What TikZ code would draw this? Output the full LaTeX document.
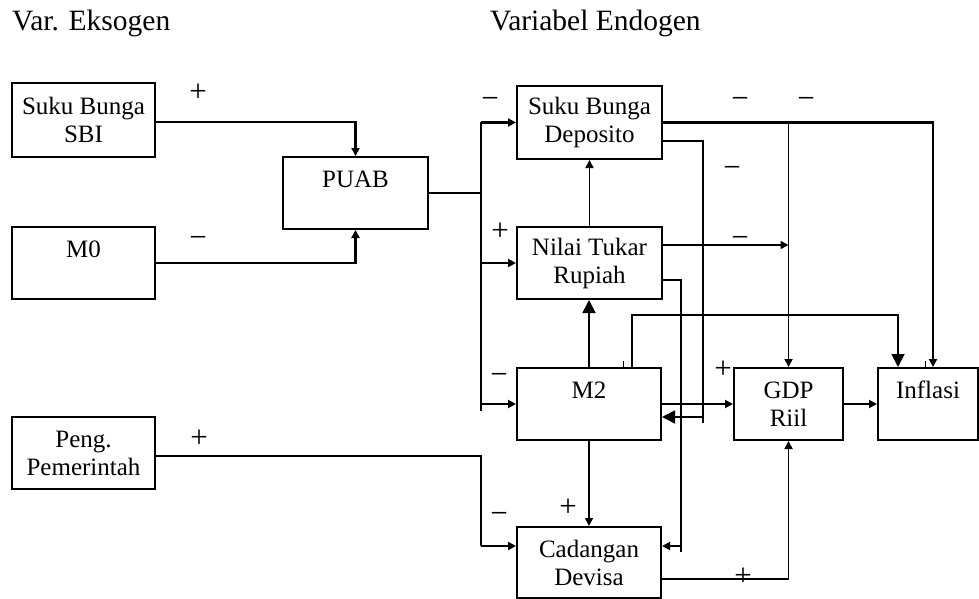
\documentclass[tikz,border=0pt]{standalone}
\usepackage{fontspec}
\setmainfont{Liberation Serif}
\usetikzlibrary{arrows.meta,calc}
\begin{document}
\begin{tikzpicture}[x=1pt,y=-1pt,
  box/.style={draw,line width=2pt,align=center,inner sep=0pt,font=\fontsize{25}{28}\selectfont},
  ln/.style={line width=1.8pt},
  thk/.style={line width=2.2pt},
  sarr/.style={-{Triangle[length=8pt,width=8pt]}},
  barr/.style={-{Triangle[length=13pt,width=13pt]}},
  sign/.style={inner sep=0pt,font=\fontsize{31}{34}\selectfont},
  title/.style={inner sep=0pt,anchor=base west,font=\fontsize{29.5}{34}\selectfont}]
\useasboundingbox (0,0) rectangle (979,599);

% titles
\node[title] (tex) at (12,31) {Var. Eksogen};
\node[title] (ten) at (490,31) {Variabel Endogen};

% boxes
\node[box,minimum width=143pt,minimum height=74pt] (sbi) at (83.5,120) {Suku Bunga\\SBI};
\node[box,minimum width=143pt,minimum height=72pt] (m0) at (83.5,263) {M0\\\mbox{}};
\node[box,minimum width=143pt,minimum height=72pt] (peng) at (83.5,453) {Peng.\\Pemerintah};
\node[box,minimum width=145pt,minimum height=72pt] (puab) at (355.5,193) {PUAB\\\mbox{}};
\node[box,minimum width=145pt,minimum height=73pt] (sbd) at (589.5,122.5) {Suku Bunga\\Deposito};
\node[box,minimum width=145pt,minimum height=72pt] (ntr) at (589.5,263) {Nilai Tukar\\Rupiah};
\node[box,minimum width=144pt,minimum height=72pt] (m2) at (589,404) {M2\\\mbox{}};
\node[box,minimum width=109pt,minimum height=72pt] (gdp) at (788.5,404) {GDP\\Riil};
\node[box,minimum width=100pt,minimum height=72pt] (inf) at (928,404) {Inflasi\\\mbox{}};
\node[box,minimum width=144pt,minimum height=71pt] (cad) at (589,562.5) {Cadangan\\Devisa};

% helper coordinates
\coordinate (bt) at (481,122);
\coordinate (bb) at (481,411);
\coordinate (pc) at (481,546);
\coordinate (ic) at (933,122);
\coordinate (s2) at (703,141);
\coordinate (s3) at (703,423);
\coordinate (s4) at (703,417);
\coordinate (n1) at (788.5,245);
\coordinate (n2) at (681,280);
\coordinate (n3) at (681,552);
\coordinate (n4) at (681,546);
\coordinate (q1) at (632,315);
\coordinate (q2) at (898,315);
\coordinate (c2) at (788.5,579);

% exogenous inputs
\draw[thk,sarr] ([yshift=-2pt]sbi.east) -| (puab.north);
\draw[thk,sarr] (m0.east) -| (puab.south);
\draw[thk] (puab.east) -- (puab.east -| bt);
\draw[thk] (bt) -- (bb);
\draw[thk,sarr] (sbd.west -| bt) -- (sbd.west);
\draw[thk,sarr] (ntr.west -| bt) -- (ntr.west);
\draw[thk,sarr] (m2.west -| bt) -- (m2.west);
\draw[thk] ([yshift=-3pt]peng.east) -| (pc);
\draw[thk,sarr] (pc) -- (pc -| cad.west);

% endogenous links
\draw[thk,sarr] (sbd.east) -- (sbd.east -| ic) -- (ic |- inf.north);
\draw[ln,sarr] (sbd.east -| gdp.north) -- (gdp.north);
\draw[ln] (s2 -| sbd.east) -- (s2) -- (s3);
\draw[ln,barr] (s4) -- (s4 -| m2.east);
\draw[ln,sarr] (n1 -| ntr.east) -- (n1);
\draw[thk] (n2 -| ntr.east) -- (n2) -- (n3);
\draw[ln,sarr] (n4) -- (n4 -| cad.east);
\draw[ln,barr] (q1 |- m2.north) -- (q1) -- (q2) -- (q2 |- inf.north);
\draw[ln,sarr] (m2.east) -- (gdp.west);
\draw[ln,sarr] (gdp.east) -- (inf.west);
\draw[ln,sarr] (c2 -| cad.east) -- (c2) -- (gdp.south);
\draw[ln,sarr] (ntr.north) -- (sbd.south);
\draw[ln,barr] (m2.north) -- (m2.north |- ntr.south);
\draw[ln,sarr] (m2.south) -- (cad.north);

% small ticks
\draw[line width=1pt] (623,361) -- (623,368);
\draw[line width=1pt] (925,361) -- (925,368);

% signs
\node[sign] (g1) at (198,93) {+};
\node[sign] (g2) at (198,242) {−};
\node[sign] (g3) at (490,103) {−};
\node[sign] (g4) at (500,232) {+};
\node[sign] (g5) at (499,379) {−};
\node[sign] (g6) at (199,439) {+};
\node[sign] (g7) at (499,518) {−};
\node[sign] (g8) at (568,508) {+};
\node[sign] (g9) at (740,103) {−};
\node[sign] (g10) at (806,103) {−};
\node[sign] (g11) at (732,172) {−};
\node[sign] (g12) at (740,242) {−};
\node[sign] (g13) at (723,370) {+};
\node[sign] (g14) at (743,577) {+};
\end{tikzpicture}
\end{document}
